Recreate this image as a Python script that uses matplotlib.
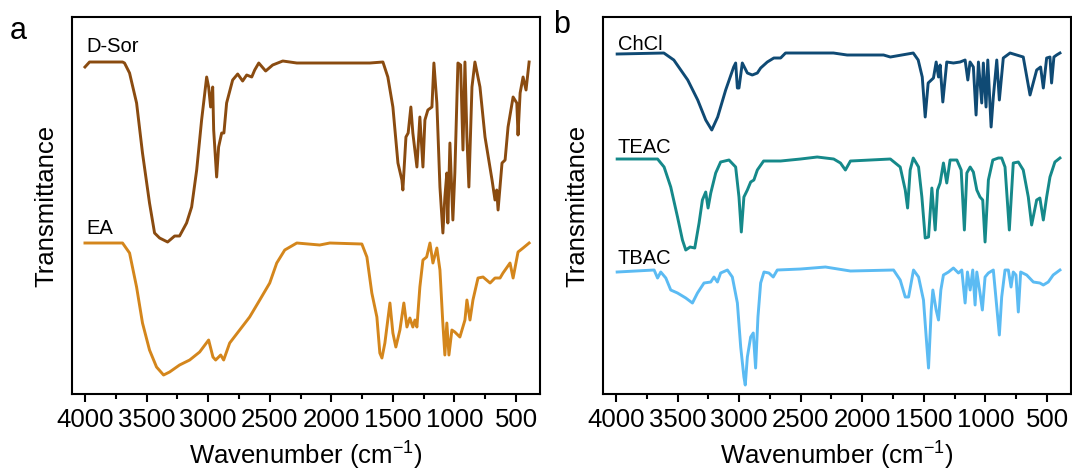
import numpy as np
import matplotlib
matplotlib.use("Agg")
from matplotlib import pyplot as plt
from matplotlib.ticker import MultipleLocator

plt.rcParams['font.family'] = ['Liberation Sans', 'DejaVu Sans']
plt.rcParams['mathtext.default'] = 'regular'

# panel a spectra (wavenumber, transmittance in arbitrary units, baseline ~100)
dsor_wn = [4000, 3963, 3695, 3679, 3638, 3581, 3533, 3476, 3435, 3394, 3329, 3272, 3232, 3175, 3134,
           3093, 3053, 3012, 2996, 2980, 2963, 2955, 2931, 2915, 2890, 2872, 2850, 2801, 2760, 2720,
           2687, 2646, 2622, 2589, 2533, 2476, 2394, 2280, 1687, 1581, 1541, 1500, 1459, 1427, 1419,
           1394, 1376, 1354, 1338, 1305, 1281, 1256, 1240, 1216, 1183, 1167, 1143, 1118, 1094, 1078,
           1062, 1054, 1037, 1013, 997, 972, 950, 931, 915, 899, 883, 858, 834, 793, 752, 695, 671,
           657, 646, 614, 589, 565, 524, 494, 484, 467, 443, 419, 394]
dsor_t = [95, 100, 100, 99, 89, 59, 9, -41, -71, -76, -80, -74, -74, -61, -45,
          -8, 42, 85, 75, 55, 75, 32, -15, 15, 29, 29, 59, 82, 88, 81,
          87, 85, 92, 99, 91, 97, 101, 99, 99, 100, 85, 55, -1, -18, -28,
          25, 29, 55, 29, -5, 45, -5, 42, 52, 55, 99, 59, -25, -71, -35,
          -11, -61, 19, -58, -11, 99, 97, 12, 100, 25, -25, 75, 100, 75, 25, -18, -38,
          -28, -48, -1, 2, 35, 65, 59, 27, 69, 85, 72, 100]

ea_wn = [4000, 3695, 3638, 3581, 3533, 3476, 3419, 3362, 3313, 3232, 3150, 3069, 2996, 2961, 2939,
         2898, 2874, 2825, 2744, 2663, 2581, 2500, 2443, 2378, 2280, 2094, 2012, 1752, 1711, 1671,
         1630, 1606, 1589, 1565, 1524, 1500, 1476, 1443, 1411, 1386, 1362, 1338, 1321, 1305, 1281,
         1256, 1226, 1199, 1175, 1143, 1118, 1096, 1078, 1062, 1045, 1021, 997, 956, 915, 899, 874,
         850, 809, 768, 711, 671, 630, 606, 549, 524, 484, 443, 394]
ea_t = [100, 100, 90, 56, 20, -7, -24, -32, -29, -22, -17, -9, 3, -14, -17,
        -12, -17, 0, 13, 26, 43, 60, 80, 93, 100, 98, 100, 99, 86, 50,
        26, -10, -15, 0, 40, 10, -4, 13, 40, 16, 25, 16, 23, 16, 56,
        83, 86, 100, 80, 95, 73, 23, -12, 20, -12, 13, 11, 6, 23, 43, 23,
        43, 65, 66, 60, 65, 65, 70, 80, 65, 91, 95, 100]

# panel b spectra
chcl_wn = [3990, 3611, 3530, 3417, 3336, 3271, 3222, 3174, 3109, 3044, 3028, 3014, 3001, 2974, 2933,
           2893, 2852, 2825, 2771, 2718, 2663, 2623, 2234, 2123, 1827, 1772, 1586, 1546, 1513, 1489,
           1465, 1422, 1400, 1381, 1368, 1346, 1314, 1260, 1206, 1165, 1143, 1125, 1098, 1076, 1057,
           1030, 1017, 995, 981, 954, 936, 908, 887, 855, 800, 693, 638, 584, 552, 530, 503, 476,
           463, 444, 422, 395]
chcl_t = [99, 100, 93, 73, 53, 33, 23, 36, 63, 86, 90, 65, 65, 90, 80,
          78, 80, 85, 91, 95, 95, 100, 100, 98, 98, 96, 100, 93, 76, 36,
          70, 75, 91, 76, 88, 51, 91, 90, 91, 93, 73, 91, 86, 38, 91,
          50, 90, 46, 93, 26, 56, 93, 53, 95, 100, 96, 58, 83, 86, 65, 95, 96,
          70, 96, 98, 100]

teac_wn = [3990, 3662, 3609, 3555, 3500, 3460, 3433, 3398, 3360, 3325, 3298, 3271, 3252, 3230, 3190,
           3150, 3082, 3028, 3001, 2982, 2961, 2933, 2906, 2880, 2852, 2801, 2663, 2501, 2366, 2232,
           2177, 2137, 2096, 1772, 1692, 1651, 1632, 1611, 1586, 1543, 1516, 1489, 1462, 1435, 1408,
           1389, 1368, 1341, 1314, 1287, 1232, 1197, 1171, 1151, 1124, 1098, 1070, 1044, 1022, 1003,
           976, 940, 895, 868, 841, 806, 774, 733, 693, 652, 625, 584, 558, 530, 503, 476, 436, 395]
teac_t = [100, 100, 92, 72, 42, 19, 9, 12, 11, 36, 59, 67, 51, 66, 86,
          97, 99, 92, 62, 27, 62, 69, 77, 79, 89, 98, 98, 100, 102, 100,
          96, 89, 98, 100, 92, 69, 51, 89, 101, 92, 62, 21, 22, 71, 29,
          69, 76, 96, 76, 99, 99, 89, 29, 86, 92, 87, 69, 62, 59, 17,
          79, 99, 101, 101, 92, 29, 96, 97, 89, 62, 34, 59, 61, 39, 62, 82, 97, 101]

tbac_wn = [3990, 3690, 3662, 3636, 3595, 3555, 3500, 3433, 3379, 3338, 3285, 3230, 3204, 3176, 3150,
           3095, 3055, 3014, 2987, 2961, 2950, 2933, 2906, 2885, 2866, 2847, 2825, 2798, 2758, 2723,
           2690, 2501, 2299, 2096, 1746, 1692, 1651, 1624, 1584, 1543, 1503, 1481, 1462, 1440, 1427,
           1400, 1381, 1362, 1341, 1300, 1260, 1219, 1192, 1165, 1146, 1124, 1103, 1084, 1070, 1044,
           1025, 1003, 976, 936, 908, 887, 868, 841, 814, 792, 774, 752, 733, 714, 665, 611, 558,
           530, 490, 450, 395]
tbac_t = [98, 100, 92, 98, 92, 80, 77, 72, 67, 77, 87, 88, 93, 88, 97,
          100, 93, 67, 23, -7, -15, 13, 33, 37, 2, 53, 87, 98, 97, 93,
          100, 101, 103, 99, 100, 90, 73, 73, 100, 93, 70, 33, 2, 60, 80,
          60, 50, 80, 95, 98, 102, 97, 100, 67, 98, 80, 100, 65, 98, 77,
          60, 93, 97, 100, 63, 35, 73, 100, 100, 83, 98, 95, 58, 98, 95, 88, 87,
          85, 88, 95, 100]

# name, wavenumbers, transmittance, vertical offset, colour
panel_a = [("D-Sor", dsor_wn, dsor_t, 232, "#8a4b10"),
           ("EA", ea_wn, ea_t, 51, "#d4861c")]
panel_b = [("ChCl", chcl_wn, chcl_t, 241, "#0f4a74"),
           ("TEAC", teac_wn, teac_t, 135, "#15898a"),
           ("TBAC", tbac_wn, tbac_t, 24, "#5bbbf3")]

fig = plt.figure(figsize=(10.72, 4.75), dpi=100)
ax_a = fig.add_axes([0.0672, 0.1705, 0.4366, 0.7937])
ax_b = fig.add_axes([0.5625, 0.1705, 0.4366, 0.7937])

label_y = {"D-Sor": 348, "EA": 166, "ChCl": 350, "TEAC": 247, "TBAC": 136}

for ax, panel in [(ax_a, panel_a), (ax_b, panel_b)]:
    for name, wn, t, off, c in panel:
        ax.plot(wn, np.array(t) + off, color=c, lw=2.1, solid_joinstyle='round')
        ax.text(3985, label_y[name], name, fontsize=14.5, ha='left', va='center')
    ax.set_xlim(4105, 305)
    ax.set_ylim(0, 377)
    ax.set_yticks([])
    ax.xaxis.set_major_locator(MultipleLocator(500))
    ax.xaxis.set_minor_locator(MultipleLocator(250))
    ax.tick_params(axis='x', which='major', direction='out', length=6, width=1.5, labelsize=18.5, pad=4)
    ax.tick_params(axis='x', which='minor', direction='out', length=3.5, width=1.5)
    for s in ax.spines.values():
        s.set_linewidth(1.5)
    ax.set_xlabel("Wavenumber (cm$^{-1}$)", fontsize=18.5, labelpad=6)
    ax.set_ylabel("Transmittance", fontsize=18.5, labelpad=10)

fig.text(0.009, 0.935, "a", fontsize=22, va='center')
fig.text(0.516, 0.948, "b", fontsize=22, va='center')

plt.savefig("out.png", dpi=100)
